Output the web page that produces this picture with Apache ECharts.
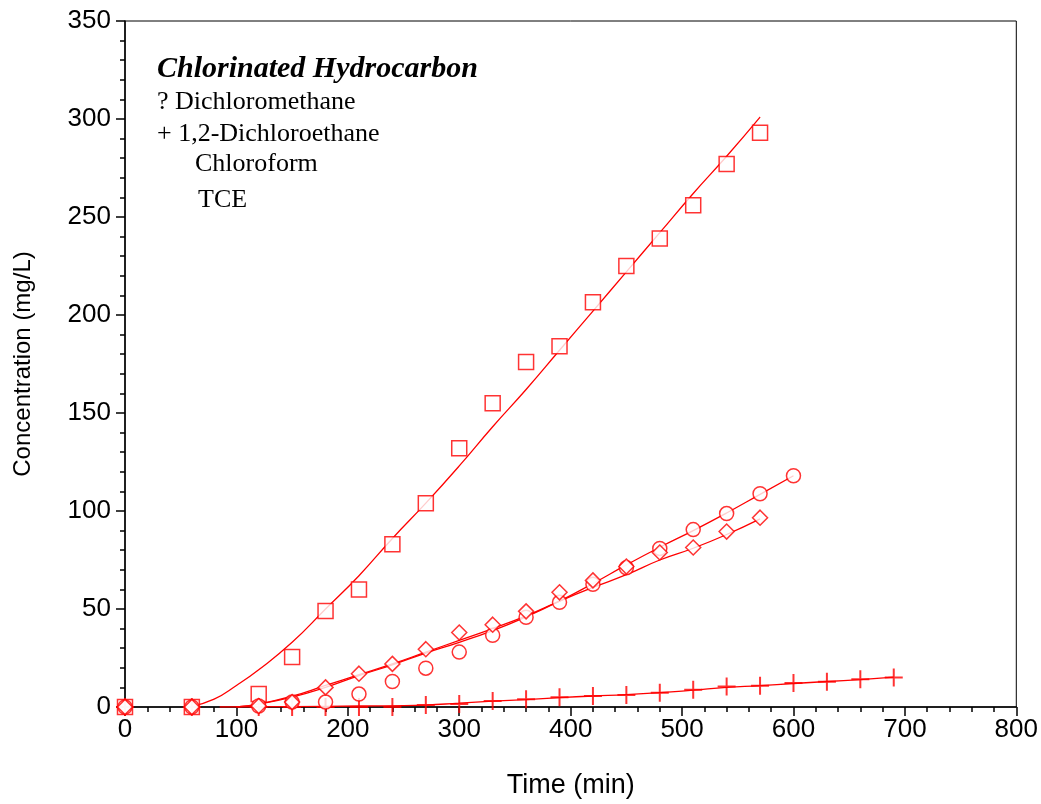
<!DOCTYPE html>
<html>
<head>
<meta charset="utf-8">
<script src="https://cdn.jsdelivr.net/npm/echarts@6/dist/echarts.min.js"></script>
<style>
  html, body { margin: 0; padding: 0; background: #fff; }
  #chart { width: 1041px; height: 804px; }
</style>
</head>
<body>
<div id="chart"></div>
<script>
  var sqTime = [0, 60, 120, 150, 180, 210, 240, 270, 300, 330, 360, 390, 420, 450, 480, 510, 540, 570];
  var sqConc = [0, 0, 6.6, 25.5, 49, 60, 83, 104, 132, 155, 176, 184, 206.5, 225, 239, 256, 277, 293];

  var plTime = [0, 60, 120, 150, 180, 210, 240, 270, 300, 330, 360, 390, 420, 450, 480, 510, 540, 570, 600, 630, 660, 690];
  var plConc = [0, 0, 0, 0, 0, 0, 0, 1, 1.5, 3, 4, 5, 5.6, 6.1, 7.3, 8.8, 10.4, 10.8, 12.2, 12.9, 14.2, 15];

  var ciTime = [0, 60, 120, 150, 180, 210, 240, 270, 300, 330, 360, 390, 420, 450, 480, 510, 540, 570, 600];
  var ciConc = [0, 0, 0.5, 2.5, 2.5, 6.6, 13, 19.8, 28, 36.6, 45.8, 53.4, 62.6, 71, 80.9, 90.5, 98.7, 108.8, 118];

  var diTime = [0, 60, 120, 150, 180, 210, 240, 270, 300, 330, 360, 390, 420, 450, 480, 510, 540, 570];
  var diConc = [0, 0, 0.5, 2.5, 10, 17, 22, 29.5, 38, 42, 48.8, 58.5, 64.6, 71.7, 78.8, 81.4, 89.5, 96.6];

  // fitted curves
  var sqFitTime = [58, 80, 100, 120, 150, 180, 210, 240, 270, 300, 330, 360, 390, 420, 450, 480, 510, 540, 570];
  var sqFitConc = [0, 4, 11, 19, 33, 50, 67, 86, 104, 123, 143, 162, 182, 202, 222, 242, 262, 281, 301];

  var plFitTime = [85, 150, 210, 270, 300, 330, 360, 390, 420, 450, 480, 510, 540, 570, 600, 630, 660, 690];
  var plFitConc = [0, 0.2, 0.5, 1, 2, 3, 3.8, 4.8, 5.6, 6.3, 7.3, 8.6, 10, 10.9, 12, 13, 14, 15.2];

  var ciFitTime = [100, 120, 150, 180, 210, 240, 270, 300, 330, 360, 390, 420, 450, 480, 510, 540, 570, 600];
  var ciFitConc = [0, 1.5, 5, 10, 16, 21.5, 27.5, 33, 39, 46, 54, 63, 72.5, 81.5, 90, 99, 108.5, 118];

  var diFitTime = [100, 120, 150, 180, 210, 240, 270, 300, 330, 360, 390, 420, 450, 480, 510, 540, 570];
  var diFitConc = [0, 1.5, 5.5, 11, 16.5, 22, 28, 34, 40, 46.5, 54, 61, 67.5, 75, 81, 88, 96];

  var xTicks = [0, 100, 200, 300, 400, 500, 600, 700, 800];
  var yTicks = [0, 50, 100, 150, 200, 250, 300, 350];

  var legendTitle = 'Chlorinated Hydrocarbon';
  var legendLines = ['? Dichloromethane', '+ 1,2-Dichloroethane', 'Chloroform', 'TCE'];

  function pairs(xs, ys) {
    var out = [];
    for (var i = 0; i < xs.length; i++) out.push([xs[i], ys[i]]);
    return out;
  }

  var red = '#ff0000';
  var plusPath = 'path://M8,0h2v8h8v2h-8v8h-2v-8h-8v-2h8z';

  function pointSeries(name, data, symbol, size) {
    return {
      name: name, type: 'scatter', data: data, symbol: symbol, symbolSize: size,
      clip: false, z: 5,
      itemStyle: { color: symbol === plusPath ? red : '#fff', borderColor: red, borderWidth: symbol === plusPath ? 0 : 1.5 }
    };
  }
  function fitSeries(name, data) {
    return {
      name: name, type: 'line', data: data, smooth: true, showSymbol: false, symbol: 'none',
      lineStyle: { color: red, width: 1.3 }, z: 3, silent: true
    };
  }

  var chart = echarts.init(document.getElementById('chart'));
  var axisFont = 'Liberation Sans, Arial, sans-serif';
  var serif = '"Liberation Serif", "Times New Roman", serif';
  chart.setOption({
    animation: false,
    backgroundColor: '#fff',
    grid: { left: 125, right: 24, top: 21, bottom: 96, show: true, borderColor: '#000', borderWidth: 1 },
    xAxis: {
      type: 'value', min: 0, max: 800, interval: 100,
      name: 'Time (min)', nameLocation: 'middle', nameGap: 65,
      nameTextStyle: { fontFamily: axisFont, fontSize: 27, color: '#000' },
      axisLine: { lineStyle: { color: '#000', width: 1.5 } },
      axisTick: { inside: false, length: 9, lineStyle: { color: '#000', width: 1.5 } },
      minorTick: { show: true, splitNumber: 5, length: 5, lineStyle: { color: '#000', width: 1.5 } },
      axisLabel: {
        margin: 10, fontFamily: axisFont, fontSize: 26, color: '#000',
        formatter: function (v) { return xTicks.indexOf(v) > -1 ? String(v) : ''; }
      },
      splitLine: { show: false }
    },
    yAxis: {
      type: 'value', min: 0, max: 350, interval: 50,
      name: 'Concentration (mg/L)', nameLocation: 'middle', nameGap: 90,
      nameTextStyle: { fontFamily: axisFont, fontSize: 24, color: '#000' },
      axisLine: { lineStyle: { color: '#000', width: 1.5 } },
      axisTick: { inside: false, length: 9, lineStyle: { color: '#000', width: 1.5 } },
      minorTick: { show: true, splitNumber: 5, length: 5, lineStyle: { color: '#000', width: 1.5 } },
      axisLabel: {
        margin: 14, fontFamily: axisFont, fontSize: 26, color: '#000',
        formatter: function (v) { return yTicks.indexOf(v) > -1 ? String(v) : ''; }
      },
      splitLine: { show: false }
    },
    graphic: [
      { type: 'text', left: 157, top: 54, style: { text: legendTitle, font: 'italic bold 30px ' + serif, fill: '#000' } },
      { type: 'text', left: 157, top: 89, style: { text: legendLines[0], font: '26px ' + serif, fill: '#000' } },
      { type: 'text', left: 157, top: 121, style: { text: legendLines[1], font: '26px ' + serif, fill: '#000' } },
      { type: 'text', left: 195, top: 151, style: { text: legendLines[2], font: '26px ' + serif, fill: '#000' } },
      { type: 'text', left: 198, top: 187, style: { text: legendLines[3], font: '26px ' + serif, fill: '#000' } }
    ],
    series: [
      fitSeries('Dichloromethane fit', pairs(sqFitTime, sqFitConc)),
      fitSeries('1,2-Dichloroethane fit', pairs(plFitTime, plFitConc)),
      fitSeries('Chloroform fit', pairs(ciFitTime, ciFitConc)),
      fitSeries('TCE fit', pairs(diFitTime, diFitConc)),
      pointSeries('Dichloromethane', pairs(sqTime, sqConc), 'rect', 15),
      pointSeries('1,2-Dichloroethane', pairs(plTime, plConc), plusPath, 18),
      pointSeries('Chloroform', pairs(ciTime, ciConc), 'circle', 14),
      pointSeries('TCE', pairs(diTime, diConc), 'diamond', 15)
    ]
  });
</script>
</body>
</html>
